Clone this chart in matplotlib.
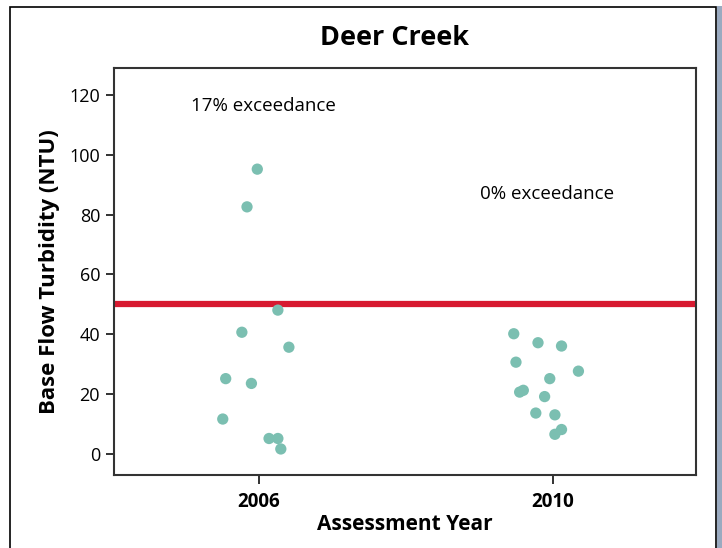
import numpy as np
import matplotlib
matplotlib.use("Agg")
import matplotlib.pyplot as plt
import matplotlib.patches as mpatches

plt.rcParams['font.family'] = ['Open Sans', 'DejaVu Sans']

# turbidity samples, x is the jittered assessment year
x_2006 = [2005.98, 2005.84, 2006.26, 2005.77, 2006.41, 2005.55, 2005.90, 2005.51, 2006.14, 2006.26, 2006.30]
y_2006 = [95.2, 82.6, 48.1, 40.7, 35.7, 25.2, 23.6, 11.7, 5.2, 5.2, 1.7]
x_2010 = [2009.47, 2009.80, 2010.12, 2009.50, 2010.35, 2009.96, 2009.55, 2009.60, 2009.89, 2009.77, 2010.03, 2010.12, 2010.03]
y_2010 = [40.2, 37.2, 36.1, 30.7, 27.7, 25.2, 20.7, 21.3, 19.2, 13.7, 13.1, 8.2, 6.6]

standard = 50
years = [2006, 2010]
labels = ['17% exceedance', '0% exceedance']
label_pos = [(2006.07, 116.3), (2009.92, 87.0)]

dot_color = '#7bbfb1'
red = '#d71a30'

fig = plt.figure(figsize=(7.22, 5.48), dpi=100)

# outer frame and right shadow
fig.patches.append(mpatches.Rectangle((717 / 722, 0), 5 / 722, 1 - 6 / 548, transform=fig.transFigure,
                                      color='#9aaac0', linewidth=0, zorder=0))
fig.patches.append(mpatches.Rectangle((10 / 722, -0.01), 706 / 722, 1 - 7 / 548 + 0.01, transform=fig.transFigure,
                                      fill=False, edgecolor='black', linewidth=1.2, zorder=1))

ax = fig.add_axes([114 / 722, 1 - 475 / 548, 582 / 722, 407 / 548])

ax.axhline(standard, color=red, linewidth=4.5, zorder=2)
ax.scatter(x_2006, y_2006, s=66, color=dot_color, edgecolors='none', zorder=3)
ax.scatter(x_2010, y_2010, s=66, color=dot_color, edgecolors='none', zorder=3)

for txt, (tx, ty) in zip(labels, label_pos):
    ax.text(tx, ty, txt, ha='center', va='center', fontsize=13.5)

ax.set_xlim(2004.03, 2011.95)
ax.set_ylim(-7, 129)
ax.set_xticks(years)
ax.set_xticklabels([str(y) for y in years], fontweight='bold', fontsize=13.5)
ax.set_yticks(np.arange(0, 121, 20))
ax.tick_params(axis='y', labelsize=13, direction='out', length=6, width=1.3, color='#222222', pad=4)
ax.tick_params(axis='x', direction='out', length=6.5, width=1.3, color='#222222', pad=6)
for s in ax.spines.values():
    s.set_linewidth(1.5)
    s.set_color('#333333')

ax.set_xlabel('Assessment Year', fontsize=15, fontweight='bold', labelpad=1)
ax.set_ylabel('Base Flow Turbidity (NTU)', fontsize=16, fontweight='bold', labelpad=7)
fig.text(395 / 722, 1 - 38 / 548, 'Deer Creek', ha='center', va='center', fontsize=19.5, fontweight='bold')

fig.savefig('out.png', dpi=100)
